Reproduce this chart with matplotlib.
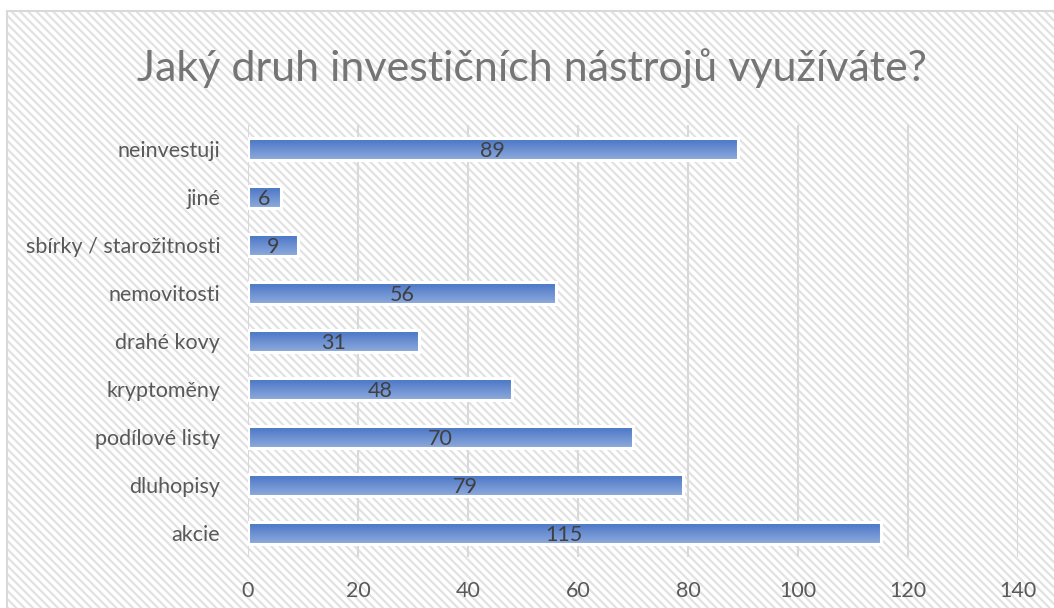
import numpy as np
import matplotlib
matplotlib.use("Agg")
import matplotlib.pyplot as plt
from matplotlib.patches import Rectangle

plt.rcParams['font.family'] = ['Lato', 'DejaVu Sans']
plt.rcParams['hatch.linewidth'] = 1.6

kategorie = ['akcie', 'dluhopisy', 'podílové listy', 'kryptoměny', 'drahé kovy',
             'nemovitosti', 'sbírky / starožitnosti', 'jiné', 'neinvestuji']
hodnoty = [115, 79, 70, 48, 31, 56, 9, 6, 89]
x_ticks = [0, 20, 40, 60, 80, 100, 120, 140]
titulek = "Jaký druh investičních nástrojů využíváte?"

fig = plt.figure(figsize=(10.54, 6.08), dpi=100)
fig.patch.set_facecolor('white')

# šrafované pozadí grafu
x0, y0 = 7 / 1054, 11 / 608
bg = Rectangle((x0, 0), 1 - x0, 1 - y0, transform=fig.transFigure,
               facecolor='white', edgecolor='#e2e2e2', hatch='\\\\\\\\', lw=0, zorder=-2)
fig.patches.append(bg)
ramecek = Rectangle((x0, -0.01), 1.0, 1 - y0 + 0.01, transform=fig.transFigure,
                    facecolor='none', edgecolor='#d9d9d9', lw=1.5, zorder=-1)
fig.patches.append(ramecek)

ax = fig.add_axes([248 / 1054, 1 - 557 / 608, (1018 - 248) / 1054, 432 / 608])
ax.set_facecolor('none')

y = np.arange(len(kategorie))
h = 0.47
grad = np.array([[0x44, 0x72, 0xC4], [0x8F, 0xAA, 0xDC]]) / 255.0
grad = np.linspace(grad[0], grad[1], 32)[:, None, :]

for yi, v in zip(y, hodnoty):
    ax.imshow(grad, extent=(0, v, yi - h / 2, yi + h / 2), aspect='auto',
              interpolation='bilinear', zorder=3)
ax.barh(y, hodnoty, height=h, facecolor='none', edgecolor='white', lw=2.2, zorder=4)

for yi, v in zip(y, hodnoty):
    ax.text(v / 2, yi - 0.05, str(v), ha='center', va='center', fontsize=15.5,
            color='#404040', zorder=5)

ax.set_xlim(0, 140)
ax.set_ylim(-0.5, len(kategorie) - 0.5)
ax.set_xticks(x_ticks)
ax.set_xticklabels([str(t) for t in x_ticks])
ax.set_yticks(y)
ax.set_yticklabels(kategorie)
ax.tick_params(axis='both', length=0, labelsize=15.5, labelcolor='#595959')
ax.tick_params(axis='x', pad=17)
ax.tick_params(axis='y', pad=20)
ax.grid(axis='x', color='#d9d9d9', lw=1.5, zorder=1)
ax.set_axisbelow(True)
for s in ax.spines.values():
    s.set_visible(False)

fig.text(0.505, 1 - 68 / 608, titulek, ha='center', va='center', fontsize=31,
         color='#757575')

fig.savefig('out.png', dpi=100)
